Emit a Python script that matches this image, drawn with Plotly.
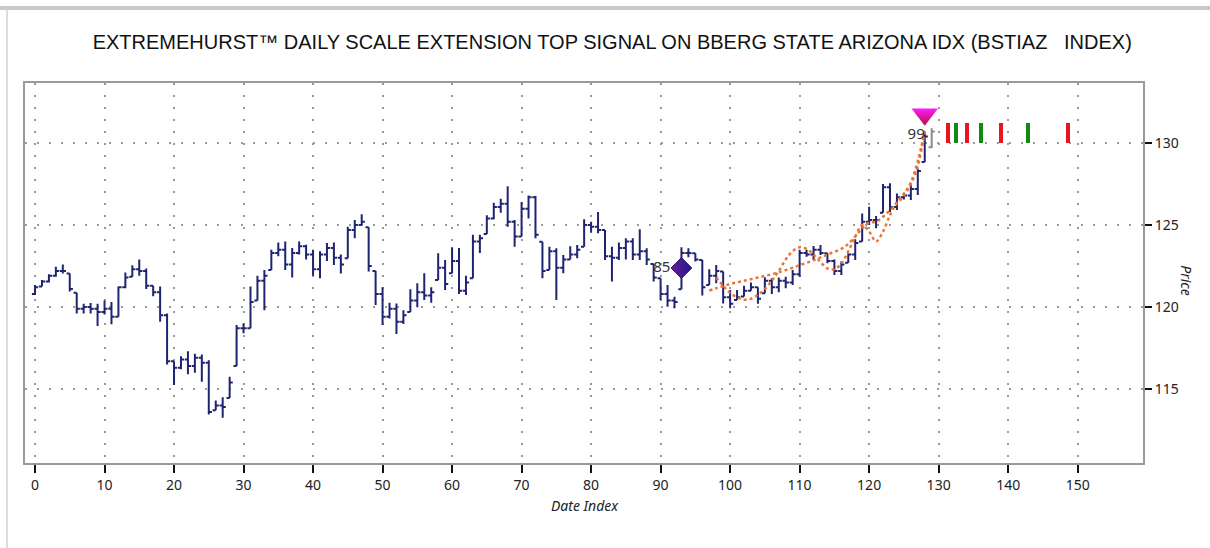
import plotly.graph_objects as go

# ---------------- data ----------------
bar_index = list(range(129))
highs = [121.35, 121.65, 122.0, 122.45, 122.6, 122.05, 120.87, 120.2, 120.25, 120.2,
         120.4, 120.3, 121.25, 122.1, 122.55, 122.9, 122.35, 121.3, 121.25, 119.6,
         116.7, 117.0, 117.3, 117.15, 117.1, 116.75, 114.3, 114.5, 115.75, 118.9,
         119.0, 121.25, 121.9, 122.26, 123.5, 123.93, 124.0, 123.6, 124.0, 123.8,
         123.5, 123.4, 123.9, 123.93, 123.2, 124.9, 125.3, 125.65, 124.86, 122.2,
         121.2, 120.26, 120.22, 119.8, 121.08, 121.45, 122.06, 121.2, 123.28, 122.87,
         123.64, 123.6, 121.9, 124.4, 124.4, 125.6, 126.36, 126.6, 127.37, 125.3,
         126.4, 126.8, 126.77, 123.98, 123.68, 123.58, 123.17, 123.7, 123.78, 125.35,
         125.2, 125.8, 124.7, 123.68, 123.93, 124.19, 124.19, 124.74, 123.58, 122.62,
         121.75, 121.34, 120.63, 123.64, 123.58, 123.28, 122.87, 122.3, 122.56, 122.16,
         121.04, 121.04, 121.29, 121.49, 121.2, 121.82, 121.75, 121.8, 121.85, 122.26,
         123.5, 123.5, 123.72, 123.78, 123.28, 122.9, 122.77, 123.28, 124.13, 125.71,
         126.12, 125.55, 127.5, 127.54, 126.93, 126.97, 127.44, 128.45, 130.6]
lows = [120.74, 121.25, 121.5, 121.85, 122.05, 120.95, 119.6, 119.6, 119.6, 118.85,
        119.55, 118.95, 119.4, 121.15, 121.85, 121.9, 121.1, 120.65, 119.1, 116.5,
        115.25, 116.2, 115.9, 116.0, 115.45, 113.45, 113.7, 113.25, 114.45, 116.4,
        118.4, 118.7, 120.4, 119.8, 122.26, 123.1, 122.26, 121.8, 123.2, 122.9,
        121.9, 121.75, 122.8, 122.56, 122.05, 122.97, 124.2, 125.0, 122.16, 120.12,
        118.9, 119.3, 118.35, 118.97, 119.7, 119.98, 120.43, 120.26, 121.65, 121.04,
        122.06, 120.8, 120.74, 121.75, 123.3, 124.45, 125.35, 125.75, 124.9, 123.68,
        124.3, 125.4, 124.19, 121.75, 122.26, 120.43, 122.06, 122.9, 122.97, 123.68,
        124.53, 124.5, 122.87, 121.55, 122.87, 122.9, 122.87, 122.87, 122.56, 121.55,
        120.43, 120.02, 119.92, 121.08, 123.03, 122.77, 120.7, 121.34, 121.45, 120.22,
        119.93, 120.43, 120.64, 121.0, 120.2, 120.84, 120.8, 120.9, 121.14, 121.35,
        121.85, 123.07, 122.87, 123.17, 122.67, 121.96, 121.96, 122.7, 122.87, 123.99,
        125.0, 124.8, 125.75, 125.8, 125.92, 126.56, 126.52, 126.83, 128.85]
closes = [121.2, 121.55, 121.9, 122.2, 122.2, 121.1, 119.9, 120.0, 119.9, 119.7,
          119.9, 119.4, 121.2, 121.8, 122.3, 122.2, 121.3, 120.9, 119.5, 116.7,
          116.3, 116.8, 116.4, 116.9, 116.6, 113.6, 114.0, 113.9, 115.4, 118.7,
          118.7, 120.3, 121.6, 121.9, 123.3, 123.5, 122.6, 123.3, 123.7, 123.2,
          122.3, 123.2, 123.6, 123.0, 122.6, 124.7, 125.0, 125.2, 122.5, 120.8,
          119.4, 119.9, 119.1, 119.5, 120.4, 120.9, 120.7, 120.9, 122.4, 121.4,
          122.8, 121.0, 121.5, 124.0, 124.2, 125.4, 126.1, 126.3, 125.2, 124.3,
          126.0, 126.7, 124.4, 122.2, 123.4, 122.4, 122.9, 123.2, 123.5, 125.0,
          124.9, 124.7, 123.1, 123.0, 123.6, 124.0, 123.2, 123.4, 122.9, 121.8,
          120.8, 120.4, 120.3, 123.3, 123.3, 122.9, 121.2, 121.9, 122.2, 120.6,
          120.2, 120.6, 121.0, 121.2, 120.5, 121.6, 121.2, 121.6, 121.5, 122.0,
          123.3, 123.2, 123.5, 123.3, 122.8, 122.2, 122.6, 123.2, 123.9, 125.2,
          125.3, 125.3, 127.3, 126.1, 126.7, 126.8, 127.2, 128.3, 130.4]
first_open = 120.8
opens = [first_open] + [min(max(c, l), h) for c, l, h in zip(closes[:-1], lows[1:], highs[1:])]

# live (unconfirmed) bar
live_index = [129]
live_open, live_high, live_low, live_close = [129.75], [130.9], [129.7], [130.7]

# projection curves
curve_a_index = list(range(98, 129))
curve_a = [121.8, 121.3, 120.85, 120.6, 120.45, 120.5, 120.75, 121.1, 121.6, 122.2,
           122.9, 123.4, 123.65, 123.55, 123.2, 122.75, 122.35, 122.3, 122.65, 123.4,
           124.3, 125.0, 124.6, 124.0, 124.6, 125.6, 126.4, 126.9, 127.6, 128.9, 130.75]
curve_b_index = [97, 98, 100, 102, 104, 106, 108, 110, 112, 114, 116, 117, 118, 119,
                 120, 121, 122, 123, 124, 125, 126, 127, 128]
curve_b = [121.0, 121.15, 121.4, 121.6, 121.8, 122.0, 122.25, 122.55, 122.85, 123.2,
           123.55, 123.85, 124.3, 124.8, 125.15, 125.2, 125.5, 125.9, 126.3, 126.8,
           127.5, 128.6, 130.75]

# signals
low_signal = {"idx": 93, "price": 122.38, "score": "85"}
top_signal = {"idx": 128, "price": 131.75, "score": "99", "label_price": 130.5}

# forward timing marks
mark_index = [131.3, 132.5, 134.1, 136.1, 139.0, 142.9, 148.6]
mark_colors = ["#e8141e", "#118a11", "#e8141e", "#118a11", "#e8141e", "#118a11", "#e8141e"]
mark_base, mark_height = 130.0, 1.2

x_ticks = list(range(0, 151, 10))
y_ticks = [115, 120, 125, 130]

title_text = "EXTREMEHURST™ DAILY SCALE EXTENSION TOP SIGNAL ON BBERG STATE ARIZONA IDX (BSTIAZ\u00a0\u00a0\u00a0INDEX)"

# ---------------- figure ----------------
navy = "#1f2470"
fig = go.Figure()

fig.add_trace(go.Bar(x=mark_index, y=[mark_height] * len(mark_index), base=mark_base,
                     width=0.58, marker=dict(color=mark_colors, line=dict(width=0)),
                     showlegend=False, hoverinfo="skip"))

fig.add_trace(go.Scatter(x=curve_a_index, y=curve_a, mode="lines",
                         line=dict(color="#e8763a", width=2.5, dash="dot", shape="spline"),
                         showlegend=False, hoverinfo="skip"))
fig.add_trace(go.Scatter(x=curve_b_index, y=curve_b, mode="lines",
                         line=dict(color="#e8763a", width=2.5, dash="dot", shape="spline"),
                         showlegend=False, hoverinfo="skip"))

fig.add_trace(go.Ohlc(x=bar_index, open=opens, high=highs, low=lows, close=closes,
                      increasing=dict(line=dict(color=navy, width=2)),
                      decreasing=dict(line=dict(color=navy, width=2)),
                      tickwidth=0.45, showlegend=False))
fig.add_trace(go.Ohlc(x=live_index, open=live_open, high=live_high, low=live_low, close=live_close,
                      increasing=dict(line=dict(color="#8c8c8c", width=2)),
                      decreasing=dict(line=dict(color="#8c8c8c", width=2)),
                      tickwidth=0.45, showlegend=False))

fig.add_trace(go.Scatter(x=[low_signal["idx"]], y=[low_signal["price"]], mode="markers+text",
                         marker=dict(symbol="diamond", size=16, color="#6a1a9a",
                                     gradient=dict(type="horizontal", color="#1f1a88"),
                                     line=dict(color="#2a1a7a", width=1)),
                         text=[low_signal["score"]], textposition="middle left",
                         textfont=dict(family="Noto Sans, sans-serif", size=15, color="#333333"),
                         showlegend=False, hoverinfo="skip"))

fig.add_trace(go.Scatter(x=[top_signal["idx"]], y=[top_signal["label_price"]], mode="text",
                         text=[top_signal["score"]], textposition="middle left",
                         textfont=dict(family="Noto Sans, sans-serif", size=15, color="#333333"),
                         showlegend=False, hoverinfo="skip"))
fig.add_trace(go.Scatter(x=[top_signal["idx"]], y=[top_signal["price"]], mode="markers",
                         marker=dict(symbol="triangle-down", size=23, color="#ff1aff",
                                     gradient=dict(type="vertical", color="#b0103a"),
                                     line=dict(width=0)),
                         showlegend=False, hoverinfo="skip"))

grid = dict(showgrid=True, gridcolor="#9a9a9a", gridwidth=1.6, griddash="2px,10px")
fig.update_layout(
    width=1210, height=548,
    margin=dict(l=25, r=67, t=83, b=85),
    paper_bgcolor="white", plot_bgcolor="white",
    title=dict(text=title_text, x=0.506, xanchor="center", y=1 - 42 / 548, yanchor="middle",
               font=dict(family="Liberation Sans, Arial, sans-serif", size=20, color="#111111")),
    xaxis=dict(range=[-1.44, 159.4], tickvals=x_ticks, ticks="outside", ticklen=8, tickwidth=2,
               tickcolor="#111111", showline=True, linecolor="#9a9a9a", linewidth=2, mirror=True,
               zeroline=False, rangeslider=dict(visible=False),
               tickfont=dict(family="Noto Sans, sans-serif", size=14, color="#222222"), **grid),
    yaxis=dict(range=[110.49, 133.66], tickvals=y_ticks, side="right", ticks="outside", ticklen=7,
               tickwidth=2, tickcolor="#111111", showline=True, linecolor="#9a9a9a", linewidth=2,
               mirror=True, zeroline=False,
               tickfont=dict(family="Noto Sans, sans-serif", size=14, color="#222222"), **grid),
    bargap=0,
    annotations=[
        dict(text="<i>Date Index</i>", xref="paper", yref="paper", x=0.501, y=-0.113,
             xanchor="center", yanchor="middle", showarrow=False,
             font=dict(family="Noto Sans, sans-serif", size=14, color="#222222")),
        dict(text="<i>Price</i>", xref="paper", yref="paper", x=1.039, y=0.482,
             xanchor="center", yanchor="middle", showarrow=False, textangle=90,
             font=dict(family="Noto Sans, sans-serif", size=14, color="#222222")),
    ],
    shapes=[
        dict(type="line", xref="paper", yref="paper", x0=-25 / 1118, x1=1 + 67 / 1118,
             y0=1 + 75 / 380, y1=1 + 75 / 380, line=dict(color="#c8c8c8", width=4)),
        dict(type="line", xref="paper", yref="paper", x0=-18 / 1118, x1=-18 / 1118,
             y0=-85 / 380, y1=1 + 75 / 380, line=dict(color="#d0d0d0", width=1.5)),
    ],
)

fig.write_html("out.html", config={"displayModeBar": False},
               post_script="document.body.style.margin='0';")
